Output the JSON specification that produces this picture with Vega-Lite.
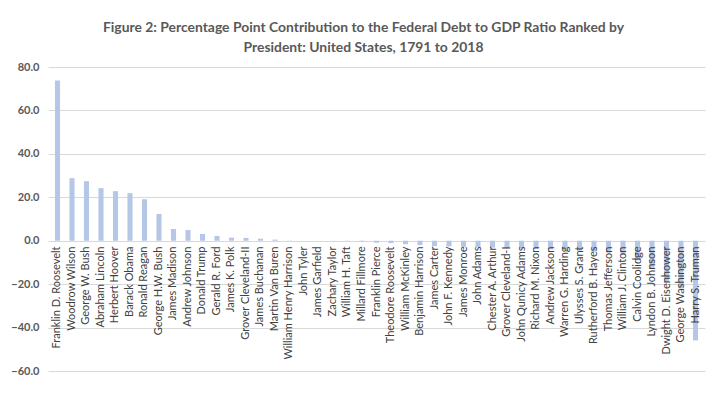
{
  "$schema": "https://vega.github.io/schema/vega-lite/v6.json",
  "width": 657,
  "height": 304,
  "autosize": "none",
  "padding": {"left": 48, "top": 67, "right": 15, "bottom": 34},
  "background": "white",
  "title": {
    "text": ["Figure 2: Percentage Point Contribution to the Federal Debt to GDP Ratio Ranked by", "President: United States, 1791 to 2018"],
    "font": "Lato",
    "fontSize": 13.9,
    "fontWeight": "bold",
    "color": "#595959",
    "anchor": "middle",
    "dx": -13,
    "lineHeight": 20,
    "offset": 6
  },
  "data": {
    "values": [
      {"president": "Franklin D. Roosevelt", "value": 73.8},
      {"president": "Woodrow Wilson", "value": 28.8},
      {"president": "George W. Bush", "value": 27.4},
      {"president": "Abraham Lincoln", "value": 24.2},
      {"president": "Herbert Hoover", "value": 22.8},
      {"president": "Barack Obama", "value": 21.9},
      {"president": "Ronald Reagan", "value": 19.1},
      {"president": "George H.W. Bush", "value": 12.3},
      {"president": "James Madison", "value": 5.4},
      {"president": "Andrew Johnson", "value": 4.9},
      {"president": "Donald Trump", "value": 3.1},
      {"president": "Gerald R. Ford", "value": 2.2},
      {"president": "James K. Polk", "value": 1.4},
      {"president": "Grover Cleveland-II", "value": 1.3},
      {"president": "James Buchanan", "value": 0.9},
      {"president": "Martin Van Buren", "value": 0.5},
      {"president": "William Henry Harrison", "value": 0.1},
      {"president": "John Tyler", "value": 0.0},
      {"president": "James Garfield", "value": 0.0},
      {"president": "Zachary Taylor", "value": -0.05},
      {"president": "William H. Taft", "value": -0.1},
      {"president": "Millard Fillmore", "value": -0.4},
      {"president": "Franklin Pierce", "value": -0.9},
      {"president": "Theodore Roosevelt", "value": -1.1},
      {"president": "William McKinley", "value": -1.6},
      {"president": "Benjamin Harrison", "value": -2.0},
      {"president": "James Carter", "value": -2.5},
      {"president": "John F. Kennedy", "value": -2.6},
      {"president": "James Monroe", "value": -2.8},
      {"president": "John Adams", "value": -3.0},
      {"president": "Chester A. Arthur", "value": -3.2},
      {"president": "Grover Cleveland-I", "value": -3.4},
      {"president": "John Qunicy Adams", "value": -3.6},
      {"president": "Richard M. Nixon", "value": -3.8},
      {"president": "Andrew Jackson", "value": -4.0},
      {"president": "Warren G. Harding", "value": -4.3},
      {"president": "Ulysses S. Grant", "value": -4.6},
      {"president": "Rutherford B. Hayes", "value": -5.0},
      {"president": "Thomas Jefferson", "value": -5.5},
      {"president": "William J. Clinton", "value": -6.5},
      {"president": "Calvin Coolidge", "value": -9.0},
      {"president": "Lyndon B. Johnson", "value": -13.0},
      {"president": "Dwight D. Eisenhower", "value": -19.0},
      {"president": "George Washington", "value": -22.0},
      {"president": "Harry S. Truman", "value": -45.9}
    ]
  },
  "mark": {"type": "bar", "color": "#b4c7e7"},
  "encoding": {
    "x": {
      "field": "president",
      "type": "nominal",
      "sort": null,
      "scale": {"paddingInner": 0.65, "paddingOuter": 0.48},
      "axis": {
        "title": null,
        "orient": "bottom",
        "offset": -130,
        "zindex": 1,
        "domain": false,
        "ticks": false,
        "labelAngle": 270,
        "labelAlign": "right",
        "labelBaseline": "middle",
        "labelPadding": 5,
        "labelFont": "Lato",
        "labelFontSize": 11,
        "labelColor": "#404040",
        "labelOverlap": false,
        "labelLimit": 300
      }
    },
    "y": {
      "field": "value",
      "type": "quantitative",
      "scale": {"domain": [-60, 80], "nice": false},
      "axis": {
        "title": null,
        "values": [-60, -40, -20, 0, 20, 40, 60, 80],
        "format": ".1f",
        "domain": false,
        "ticks": false,
        "labelPadding": 9,
        "labelFont": "Lato",
        "labelFontSize": 11,
        "labelFontWeight": "bold",
        "labelColor": "#595959",
        "gridColor": "#d9d9d9",
        "gridWidth": 1
      }
    }
  },
  "config": {"view": {"stroke": null}}
}
